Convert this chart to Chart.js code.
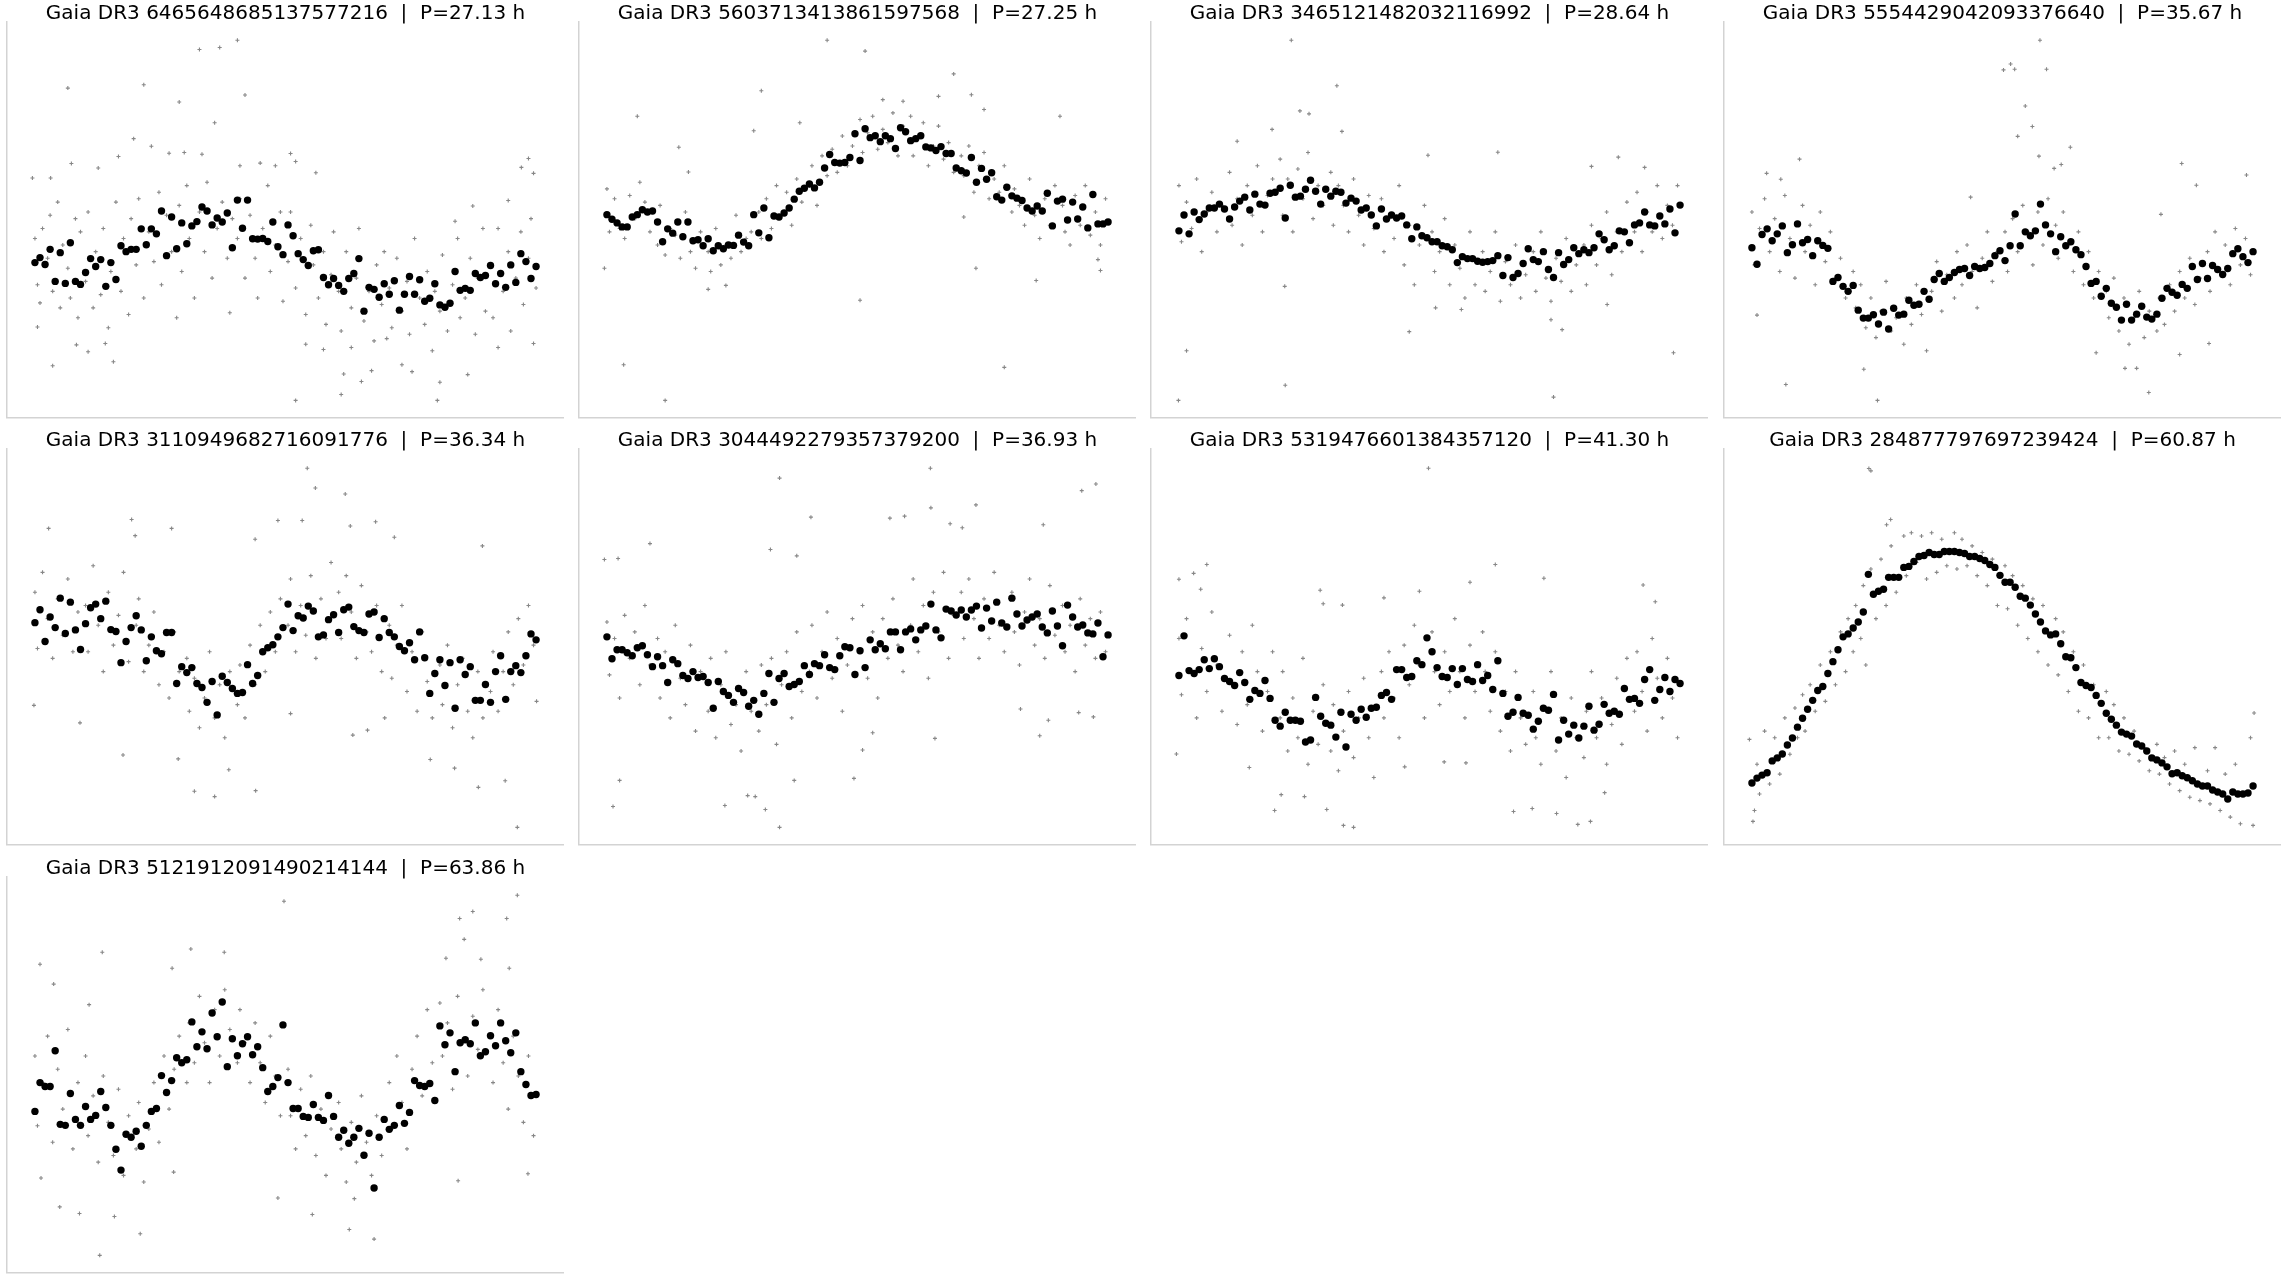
<!DOCTYPE html>
<html>
<head>
<meta charset="utf-8">
<title>Gaia DR3 phase-folded light curves</title>
<script src="https://cdn.jsdelivr.net/npm/chart.js"></script>
<style>
  body {
    margin: 0;
    background: #ffffff;
    width: 2287px;
    height: 1279px;
    overflow: hidden;
    position: relative;
  }
  .panel { position: absolute; }
</style>
</head>
<body>
<script>
// source list and folding periods (hours)
const sourceIds = ["6465648685137577216", "5603713413861597568", "3465121482032116992", "5554429042093376640",
  "3110949682716091776", "3044492279357379200", "5319476601384357120", "284877797697239424", "5121912091490214144"];
const periods = ["27.13", "27.25", "28.64", "35.67", "36.34", "36.93", "41.30", "60.87", "63.86"];

// phase bin centres (100 bins)
const binPhase = [0.005,0.015,0.025,0.035,0.045,0.055,0.065,0.075,0.085,0.095,
  0.105,0.115,0.125,0.135,0.145,0.155,0.165,0.175,0.185,0.195,
  0.205,0.215,0.225,0.235,0.245,0.255,0.265,0.275,0.285,0.295,
  0.305,0.315,0.325,0.335,0.345,0.355,0.365,0.375,0.385,0.395,
  0.405,0.415,0.425,0.435,0.445,0.455,0.465,0.475,0.485,0.495,
  0.505,0.515,0.525,0.535,0.545,0.555,0.565,0.575,0.585,0.595,
  0.605,0.615,0.625,0.635,0.645,0.655,0.665,0.675,0.685,0.695,
  0.705,0.715,0.725,0.735,0.745,0.755,0.765,0.775,0.785,0.795,
  0.805,0.815,0.825,0.835,0.845,0.855,0.865,0.875,0.885,0.895,
  0.905,0.915,0.925,0.935,0.945,0.955,0.965,0.975,0.985,0.995];

// binned relative magnitudes (mmag, arbitrary zero point; larger = fainter)
const bin1 = [793,778,799,753,850,763,856,733,850,859, 823,781,805,784,865,793,844,742,760,753,
  753,691,739,691,706,637,772,655,751,673, 736,682,669,625,637,679,658,670,643,748,
  604,689,604,721,722,720,729,670,745,769, 679,712,766,784,802,757,754,838,860,841,
  862,880,841,826,781,940,868,874,898,857, 889,848,937,889,835,889,845,910,901,857,
  921,928,916,820,877,871,877,826,838,832, 802,857,826,868,800,853,766,790,841,805];
const bin2 = [648,662,673,685,685,655,648,633,640,637, 670,730,691,704,670,715,670,727,724,742,
  721,757,742,751,740,741,710,731,742,648, 703,628,718,652,655,643,628,601,577,568,
  555,567,550,507,466,490,492,490,475,403, 484,388,415,409,427,409,418,448,385,397,
  424,418,409,443,446,454,442,463,463,507, 515,522,475,550,508,541,521,594,604,565,
  591,598,605,628,637,622,637,583,682,607, 601,664,610,661,625,688,587,676,676,670];
const bin3 = [697,649,706,640,663,646,628,628,616,631, 661,625,607,595,634,586,616,619,583,580,
  568,658,559,595,592,571,544,577,616,571, 592,577,580,613,598,607,634,628,649,682,
  631,661,649,658,652,679,721,685,712,718, 730,730,742,745,754,793,775,781,781,789,
  792,790,787,772,832,778,838,826,796,751, 784,790,760,814,838,763,799,784,748,766,
  754,763,748,706,724,754,742,697,700,733, 679,673,640,679,682,652,676,631,703,619];
const bin4 = [748,798,708,691,727,706,682,763,739,676, 733,723,772,727,741,750,850,838,865,880,
  862,937,961,961,951,979,943,994,931,952, 949,907,922,919,880,904,844,826,850,838,
  823,814,811,832,805,811,808,796,772,757, 787,742,646,742,700,712,697,616,679,706,
  760,715,742,730,754,769,805,856,850,895, 871,916,928,967,919,967,949,925,958,964,
  949,901,871,883,892,859,871,805,844,796, 841,802,814,829,811,766,751,775,793,760];
const bin5 = [612,573,669,595,627,538,645,550,634,693, 615,567,556,600,547,633,639,733,669,627,
  591,634,727,655,697,706,642,642,796,745, 763,748,796,808,853,790,891,774,793,811,
  826,823,739,796,772,700,688,679,655,627, 556,636,591,598,562,577,655,649,603,588,
  642,573,565,624,636,642,586,580,657,600, 642,655,684,697,673,724,640,718,826,766,
  724,802,733,871,724,769,745,847,847,799, 853,760,712,844,760,742,763,712,646,664];
const bin6 = [655,721,694,694,703,712,688,682,709,745, 715,742,793,724,736,772,781,760,778,775,
  793,871,790,820,832,853,811,823,865,847, 889,826,766,853,781,766,805,799,790,742,
  769,736,742,709,748,754,712,685,688,769, 697,748,664,694,676,691,640,640,694,640,
  631,664,634,622,556,634,658,571,577,589, 574,595,574,562,628,568,607,550,613,625,
  538,586,622,604,595,586,625,643,577,622, 682,559,595,625,619,643,646,613,715,649];
const bin7 = [772,652,757,766,754,724,751,721,745,781, 790,802,763,793,844,817,826,787,841,907,
  925,883,907,907,910,973,967,838,895,916, 922,958,883,988,889,907,874,898,871,868,
  832,823,844,754,754,778,775,727,739,658, 700,748,775,778,751,799,751,784,790,739,
  787,772,814,727,826,895,883,838,886,892, 934,910,871,877,829,967,907,949,922,961,
  925,865,937,919,859,886,880,889,811,844, 841,856,784,754,847,814,778,820,784,796];
const bin8 = [1097,1082,1073,1066,1030,1021,1009,982,961,928, 901,874,847,817,805,766,730,694,655,646,
  628,610,580,466,526,517,511,475,475,475, 445,442,427,412,409,400,406,406,397,397,
  397,400,403,412,412,418,424,436,445,469, 490,490,505,532,538,559,586,610,637,649,
  646,676,715,718,748,793,802,808,832,856, 886,904,922,943,949,955,979,985,1000,1021,
  1027,1036,1048,1069,1066,1075,1081,1090,1100,1106, 1106,1118,1124,1130,1145,1124,1130,1130,1127,1106];
const bin9 = [787,700,712,712,604,826,829,733,811,829, 772,811,799,727,775,829,901,964,856,865,
  847,892,829,787,778,679,730,694,625,640, 631,517,592,547,598,490,562,457,652,568,
  619,583,562,616,592,655,727,712,685,526, 700,778,778,802,805,766,805,814,739,802,
  865,844,883,865,838,919,853,1018,865,811, 841,829,769,823,790,694,709,712,703,754,
  529,586,550,667,580,571,583,520,619,607, 559,589,520,574,610,550,667,706,739,736];

// individual epochs: phase, magnitude pairs
const obs1 = [0.405,120, 0.37,142, 0.33,148, 0.07,265, 0.22,255, 0.42,286, 0.29,307, 0.36,370, 0.20,418, 0.235,441,
  0.077,493, 0.17,472, 0.13,507, 0.966,505, 0.98,478, 0.99,523, 0.52,487, 0.51,463, 0.56,521, 0.61,1192,
  0.52,1210, 0.80,1210, 0.65,1153, 0.86,1132, 0.805,1155, 0.615,1130, 0.04,1105, 0.16,1093, 0.75,1123, 0.575,1056,
  0.54,1040, 0.73,1102, 0.67,1120, 0.01,988, 0.11,1063, 0.087,1042, 0.144,1038, 0.63,1050, 0.70,1023, 0.92,1050,
  0.99,1038, 0.0,537, 0.036,537, 0.27,462, 0.30,460, 0.335,465, 0.41,500, 0.45,492, 0.48,500, 0.94,605,
  0.87,622, 0.835,668,
  0.005,720, 0.01,860, 0.015,915, 0.02,690, 0.03,780, 0.035,650, 0.04,880, 0.05,610, 0.055,930, 0.06,740,
  0.07,810, 0.075,900, 0.085,660, 0.09,960, 0.095,700, 0.105,850, 0.11,640, 0.12,930, 0.125,760, 0.135,890,
  0.14,690, 0.15,990, 0.155,820, 0.165,610, 0.175,880, 0.18,720, 0.19,950, 0.195,660, 0.205,800, 0.21,600,
  0.22,900, 0.23,700, 0.24,790, 0.25,580, 0.255,860, 0.265,650, 0.275,760, 0.285,960, 0.29,620, 0.295,820,
  0.305,560, 0.31,720, 0.32,900, 0.33,640, 0.34,760, 0.345,550, 0.355,840, 0.365,690, 0.375,610, 0.385,780,
  0.39,945, 0.395,660, 0.405,720, 0.41,600, 0.42,840, 0.43,650, 0.44,780, 0.445,900, 0.455,690, 0.465,560,
  0.47,820, 0.48,740, 0.49,640, 0.495,910, 0.505,790, 0.51,640, 0.52,870, 0.53,720, 0.54,950, 0.55,680,
  0.555,800, 0.565,900, 0.575,760, 0.58,980, 0.59,830, 0.595,700, 0.605,880, 0.61,1000, 0.62,760, 0.63,930,
  0.64,840, 0.645,690, 0.655,970, 0.665,880, 0.675,1030, 0.68,800, 0.69,920, 0.695,760, 0.705,870, 0.71,990,
  0.72,780, 0.73,940, 0.74,850, 0.745,1010, 0.755,720, 0.765,900, 0.775,980, 0.78,820, 0.79,1060, 0.795,880,
  0.805,940, 0.81,770, 0.82,1000, 0.83,860, 0.84,720, 0.845,960, 0.855,900, 0.865,780, 0.875,1010, 0.88,840,
  0.89,690, 0.895,940, 0.905,800, 0.91,960, 0.92,690, 0.93,880, 0.94,760, 0.945,1000, 0.955,840, 0.965,700,
  0.97,920, 0.98,780, 0.985,660, 0.995,870];
const obs2 = [0.44,120, 0.515,153, 0.69,222, 0.31,273, 0.725,285, 0.065,350, 0.90,350, 0.295,394, 0.147,444, 0.386,370,
  0.166,519, 0.0,810, 0.038,1102, 0.12,1210, 0.505,907, 0.79,1110, 0.734,810, 0.853,847, 0.98,817, 0.975,784,
  0.55,300, 0.59,305, 0.66,290, 0.75,330, 0.205,874, 0.24,862, 0.71,655,
  0.005,570, 0.01,700, 0.02,600, 0.03,690, 0.04,720, 0.05,590, 0.06,660, 0.07,550, 0.08,610, 0.09,700,
  0.105,740, 0.11,620, 0.12,770, 0.13,690, 0.14,710, 0.15,780, 0.16,640, 0.17,760, 0.18,810, 0.19,700,
  0.205,760, 0.21,820, 0.22,690, 0.23,800, 0.24,740, 0.25,780, 0.26,650, 0.27,760, 0.28,720, 0.29,700,
  0.305,640, 0.31,720, 0.32,600, 0.33,690, 0.34,560, 0.35,650, 0.36,580, 0.37,680, 0.38,540, 0.39,610,
  0.405,560, 0.41,500, 0.42,620, 0.43,470, 0.44,530, 0.45,450, 0.46,520, 0.47,410, 0.48,500, 0.49,440,
  0.505,360, 0.51,460, 0.52,400, 0.53,350, 0.54,450, 0.55,390, 0.56,430, 0.57,340, 0.58,470, 0.59,380,
  0.605,350, 0.61,470, 0.62,410, 0.63,370, 0.64,500, 0.65,440, 0.66,380, 0.67,480, 0.68,430, 0.69,520,
  0.705,470, 0.71,530, 0.72,440, 0.73,580, 0.74,500, 0.75,460, 0.76,600, 0.77,540, 0.78,580, 0.79,500,
  0.805,640, 0.81,570, 0.82,620, 0.83,680, 0.84,540, 0.85,650, 0.86,720, 0.87,600, 0.88,680, 0.89,560,
  0.905,620, 0.91,700, 0.92,740, 0.93,590, 0.94,680, 0.95,560, 0.96,710, 0.97,640, 0.98,740, 0.99,600];
const obs3 = [0.227,120, 0.317,258, 0.244,334, 0.262,343, 0.327,396, 0.189,390, 0.12,426, 0.635,459, 0.004,1210, 0.02,1060,
  0.215,1164, 0.745,1200, 0.46,1002, 0.762,996, 0.74,966, 0.982,1066, 0.214,865, 0.873,474, 0.82,502, 0.925,505,
  0.497,468, 0.512,930, 0.563,935, 0.851,920,
  0.005,560, 0.01,730, 0.02,610, 0.03,690, 0.04,540, 0.05,760, 0.06,640, 0.07,580, 0.08,700, 0.09,620,
  0.105,520, 0.11,680, 0.12,600, 0.13,740, 0.14,560, 0.15,650, 0.16,500, 0.17,700, 0.18,590, 0.19,540,
  0.205,480, 0.21,650, 0.22,540, 0.23,700, 0.24,510, 0.25,600, 0.26,460, 0.27,660, 0.28,560, 0.29,620,
  0.305,520, 0.31,680, 0.32,560, 0.33,620, 0.34,700, 0.35,540, 0.36,650, 0.37,740, 0.38,590, 0.39,690,
  0.405,600, 0.41,760, 0.42,660, 0.43,720, 0.44,560, 0.45,800, 0.46,680, 0.47,860, 0.48,740, 0.49,620,
  0.505,700, 0.51,820, 0.52,760, 0.53,660, 0.54,860, 0.55,740, 0.56,810, 0.57,900, 0.58,700, 0.59,860,
  0.605,760, 0.61,880, 0.62,820, 0.63,700, 0.64,910, 0.65,790, 0.66,860, 0.67,740, 0.68,900, 0.69,830,
  0.705,760, 0.71,880, 0.72,700, 0.73,840, 0.74,910, 0.75,780, 0.76,850, 0.77,720, 0.78,880, 0.79,800,
  0.805,740, 0.81,860, 0.82,680, 0.83,800, 0.84,720, 0.85,640, 0.86,830, 0.87,700, 0.88,760, 0.89,610,
  0.905,700, 0.91,580, 0.92,760, 0.93,640, 0.94,700, 0.95,560, 0.96,720, 0.97,620, 0.98,680, 0.99,560];
const obs4 = [0.574,120, 0.516,192, 0.502,210, 0.524,208, 0.587,208, 0.545,319, 0.559,381, 0.53,411, 0.634,444, 0.572,471,
  0.616,496, 0.602,508, 0.099,480, 0.062,541, 0.034,523, 0.854,493, 0.883,559, 0.982,528, 0.253,1210, 0.072,1162,
  0.789,1186, 0.226,1116, 0.015,952, 0.742,1113, 0.765,1113, 0.685,1066, 0.85,1071, 0.908,1038, 0.437,595, 0.813,647,
  0.005,640, 0.01,800, 0.02,690, 0.03,600, 0.04,760, 0.05,660, 0.06,820, 0.07,590, 0.08,720, 0.09,840,
  0.105,620, 0.11,760, 0.12,680, 0.13,860, 0.14,640, 0.15,790, 0.16,700, 0.17,840, 0.18,780, 0.19,900,
  0.205,820, 0.21,930, 0.22,860, 0.23,990, 0.24,900, 0.25,1020, 0.26,940, 0.27,850, 0.28,1000, 0.29,960,
  0.305,1040, 0.31,900, 0.32,980, 0.33,860, 0.34,950, 0.35,1060, 0.36,880, 0.37,790, 0.38,940, 0.39,830,
  0.405,900, 0.41,760, 0.42,860, 0.43,740, 0.44,820, 0.45,930, 0.46,780, 0.47,700, 0.48,850, 0.49,760,
  0.505,700, 0.51,820, 0.52,660, 0.53,760, 0.54,620, 0.55,700, 0.56,800, 0.57,640, 0.58,740, 0.59,600,
  0.605,680, 0.61,780, 0.62,640, 0.63,740, 0.64,820, 0.65,700, 0.66,860, 0.67,760, 0.68,900, 0.69,820,
  0.705,880, 0.71,960, 0.72,840, 0.73,1000, 0.74,900, 0.75,1040, 0.76,960, 0.77,880, 0.78,1020, 0.79,940,
  0.805,1000, 0.81,900, 0.82,980, 0.83,860, 0.84,940, 0.85,820, 0.86,900, 0.87,780, 0.88,920, 0.89,840,
  0.905,760, 0.91,880, 0.92,700, 0.93,820, 0.94,740, 0.95,860, 0.96,690, 0.97,800, 0.98,720, 0.99,830];
const obs5 = [0.543,145, 0.559,205, 0.618,223, 0.196,300, 0.032,327, 0.275,327, 0.485,303, 0.533,303, 0.678,307, 0.628,320,
  0.715,354, 0.889,380, 0.203,349, 0.44,360, 0.958,1231, 0.36,1138, 0.441,1120, 0.32,1122, 0.881,1110, 0.934,1090,
  0.834,1052, 0.388,1057, 0.179,1012, 0.288,1024, 0.786,1026, 0.003,862, 0.094,915, 0.996,850, 0.633,952, 0.662,937,
  0.696,900, 0.51,887,
  0.005,520, 0.01,690, 0.02,460, 0.03,600, 0.04,720, 0.05,540, 0.06,650, 0.07,480, 0.08,700, 0.09,580,
  0.105,560, 0.11,700, 0.12,440, 0.13,620, 0.14,760, 0.15,520, 0.16,680, 0.17,590, 0.18,460, 0.19,730,
  0.205,620, 0.21,540, 0.22,760, 0.23,680, 0.24,580, 0.25,800, 0.26,700, 0.27,840, 0.28,640, 0.29,760,
  0.305,720, 0.31,880, 0.32,780, 0.33,930, 0.34,840, 0.35,700, 0.36,900, 0.37,800, 0.38,960, 0.39,760,
  0.405,860, 0.41,740, 0.42,900, 0.43,680, 0.44,800, 0.45,620, 0.46,760, 0.47,580, 0.48,700, 0.49,540,
  0.505,620, 0.51,480, 0.52,700, 0.53,560, 0.54,650, 0.55,470, 0.56,720, 0.57,540, 0.58,660, 0.59,430,
  0.605,520, 0.61,660, 0.62,470, 0.63,580, 0.64,720, 0.65,500, 0.66,640, 0.67,700, 0.68,560, 0.69,760,
  0.705,620, 0.71,780, 0.72,680, 0.73,560, 0.74,820, 0.75,700, 0.76,880, 0.77,640, 0.78,790, 0.79,900,
  0.805,740, 0.81,860, 0.82,680, 0.83,930, 0.84,800, 0.85,720, 0.86,880, 0.87,960, 0.88,760, 0.89,900,
  0.905,820, 0.91,700, 0.92,880, 0.93,760, 0.94,640, 0.95,800, 0.96,600, 0.97,740, 0.98,560, 0.99,680];
const obs6 = [0.644,145, 0.346,175, 0.971,193, 0.943,213, 0.645,265, 0.734,256, 0.408,293, 0.564,296, 0.593,290, 0.867,316,
  0.683,313, 0.707,325, 0.09,373, 0.328,391, 0.38,410, 0.0,421, 0.027,418, 0.017,1168, 0.346,1231, 0.318,1177,
  0.238,1165, 0.283,1135, 0.298,1138, 0.03,1089, 0.493,1083, 0.375,1089, 0.86,954, 0.653,962, 0.937,884, 0.966,897,
  0.877,907, 0.822,873, 0.51,997, 0.53,945,
  0.005,610, 0.01,770, 0.02,660, 0.03,840, 0.04,590, 0.05,720, 0.06,640, 0.07,800, 0.08,560, 0.09,740,
  0.105,660, 0.11,840, 0.12,700, 0.13,900, 0.14,620, 0.15,780, 0.16,860, 0.17,680, 0.18,940, 0.19,760,
  0.205,880, 0.21,720, 0.22,960, 0.23,800, 0.24,700, 0.25,920, 0.26,860, 0.27,1000, 0.28,760, 0.29,880,
  0.305,940, 0.31,740, 0.32,860, 0.33,720, 0.34,980, 0.35,800, 0.36,700, 0.37,900, 0.38,640, 0.39,820,
  0.405,760, 0.41,620, 0.42,840, 0.43,700, 0.44,580, 0.45,780, 0.46,660, 0.47,880, 0.48,740, 0.49,600,
  0.505,700, 0.51,560, 0.52,780, 0.53,640, 0.54,840, 0.55,600, 0.56,720, 0.57,540, 0.58,680, 0.59,760,
  0.605,620, 0.61,480, 0.62,700, 0.63,560, 0.64,780, 0.65,520, 0.66,640, 0.67,460, 0.68,720, 0.69,590,
  0.705,520, 0.71,660, 0.72,480, 0.73,600, 0.74,720, 0.75,540, 0.76,660, 0.77,460, 0.78,620, 0.79,700,
  0.805,520, 0.81,640, 0.82,740, 0.83,580, 0.84,480, 0.85,680, 0.86,600, 0.87,720, 0.88,500, 0.89,650,
  0.905,560, 0.91,700, 0.92,620, 0.93,760, 0.94,540, 0.95,680, 0.96,600, 0.97,720, 0.98,580, 0.99,700];
const obs7 = [0.498,145, 0.06,436, 0.63,436, 0.034,463, 0.726,478, 0.58,490, 0.922,498, 0.005,481, 0.048,511, 0.946,549,
  0.284,514, 0.29,555, 0.328,559, 0.41,537, 0.48,517, 0.33,1225, 0.35,1231, 0.793,1222, 0.818,1213, 0.751,1189,
  0.194,1180, 0.666,1183, 0.703,1174, 0.207,1132, 0.253,1138, 0.846,1126, 0.297,1177, 0.0,1009, 0.144,1050, 0.451,1048,
  0.529,1033, 0.572,1036,
  0.005,660, 0.01,830, 0.02,600, 0.03,760, 0.04,900, 0.05,690, 0.06,820, 0.07,580, 0.08,740, 0.09,880,
  0.105,650, 0.11,800, 0.12,920, 0.13,700, 0.14,860, 0.15,620, 0.16,760, 0.17,940, 0.18,820, 0.19,700,
  0.205,900, 0.21,760, 0.22,1000, 0.23,840, 0.24,960, 0.25,720, 0.26,1040, 0.27,880, 0.28,980, 0.29,800,
  0.305,1000, 0.31,860, 0.32,1060, 0.33,940, 0.34,820, 0.35,1020, 0.36,900, 0.37,780, 0.38,960, 0.39,1080,
  0.405,760, 0.41,900, 0.42,700, 0.43,840, 0.44,960, 0.45,680, 0.46,800, 0.47,620, 0.48,740, 0.49,900,
  0.505,640, 0.51,760, 0.52,860, 0.53,700, 0.54,820, 0.55,600, 0.56,760, 0.57,900, 0.58,680, 0.59,820,
  0.605,640, 0.61,760, 0.62,880, 0.63,700, 0.64,940, 0.65,820, 0.66,1000, 0.67,760, 0.68,900, 0.69,980,
  0.705,820, 0.71,960, 0.72,1040, 0.73,880, 0.74,760, 0.75,1000, 0.76,900, 0.77,1080, 0.78,840, 0.79,960,
  0.805,1020, 0.81,880, 0.82,760, 0.83,960, 0.84,840, 0.85,1040, 0.86,920, 0.87,780, 0.88,980, 0.89,720,
  0.905,880, 0.91,700, 0.92,820, 0.93,940, 0.94,660, 0.95,780, 0.96,900, 0.97,720, 0.98,840, 0.99,960];
const obs8 = [0.236,146, 0.24,153, 0.279,300, 0.271,316, 0.997,885, 0.007,1213,
  0.0,965, 0.01,1180, 0.015,1040, 0.02,1130, 0.03,940, 0.04,1100, 0.05,960, 0.06,1070, 0.07,900, 0.08,1010,
  0.09,870, 0.095,960, 0.105,830, 0.11,940, 0.12,800, 0.13,880, 0.14,740, 0.15,850, 0.16,700, 0.17,800,
  0.18,640, 0.19,760, 0.195,600, 0.205,700, 0.21,560, 0.22,660, 0.225,500, 0.23,740, 0.24,450, 0.25,600,
  0.26,420, 0.27,560, 0.28,380, 0.29,520, 0.305,350, 0.31,470, 0.32,340, 0.33,430, 0.34,350, 0.35,480,
  0.36,340, 0.37,460, 0.38,360, 0.39,440, 0.405,340, 0.41,450, 0.42,360, 0.43,440, 0.44,380, 0.45,470,
  0.46,400, 0.47,500, 0.48,420, 0.49,560, 0.505,440, 0.51,570, 0.52,470, 0.53,620, 0.54,500, 0.55,660,
  0.56,540, 0.57,700, 0.58,560, 0.59,740, 0.605,600, 0.61,770, 0.62,640, 0.63,820, 0.64,700, 0.65,880,
  0.66,740, 0.67,900, 0.68,800, 0.69,960, 0.705,820, 0.71,960, 0.72,860, 0.73,1000, 0.74,900, 0.75,1010,
  0.76,940, 0.77,1030, 0.78,990, 0.79,1060, 0.805,980, 0.81,1070, 0.82,1020, 0.83,1100, 0.84,1000, 0.85,1120,
  0.86,1040, 0.87,1140, 0.88,990, 0.89,1150, 0.905,1060, 0.91,1160, 0.92,990, 0.93,1180, 0.94,1070, 0.95,1200,
  0.96,1040, 0.97,1220, 0.98,1130, 0.99,960, 0.995,1225];
const obs9 = [0.958,135, 0.497,153, 0.87,184, 0.844,205, 0.937,205, 0.853,268, 0.138,307, 0.313,297, 0.379,307, 0.015,343,
  0.276,355, 0.042,403, 0.112,465, 0.817,325, 0.886,328, 0.942,355, 0.133,1221, 0.675,1172, 0.626,1143, 0.213,1156,
  0.553,1098, 0.162,1104, 0.093,1095, 0.054,1075, 0.636,1050, 0.485,1048, 0.841,996, 0.979,975, 0.017,988, 0.279,970,
  0.005,620, 0.01,830, 0.02,700, 0.03,560, 0.04,880, 0.05,660, 0.06,780, 0.07,540, 0.08,900, 0.09,700,
  0.105,620, 0.11,860, 0.12,740, 0.13,940, 0.14,680, 0.15,820, 0.16,920, 0.17,720, 0.18,980, 0.19,800,
  0.205,900, 0.21,760, 0.22,1000, 0.23,840, 0.24,700, 0.25,880, 0.26,620, 0.27,780, 0.28,660, 0.29,560,
  0.305,700, 0.31,520, 0.32,640, 0.33,440, 0.34,580, 0.35,700, 0.36,480, 0.37,620, 0.38,420, 0.39,540,
  0.405,640, 0.41,480, 0.42,580, 0.43,700, 0.44,520, 0.45,640, 0.46,760, 0.47,560, 0.48,680, 0.49,800,
  0.505,660, 0.51,800, 0.52,900, 0.53,720, 0.54,860, 0.55,680, 0.56,920, 0.57,780, 0.58,980, 0.59,840,
  0.605,760, 0.61,900, 0.62,1000, 0.63,820, 0.64,940, 0.65,740, 0.66,880, 0.67,980, 0.68,800, 0.69,920,
  0.705,700, 0.71,840, 0.72,620, 0.73,760, 0.74,900, 0.75,660, 0.76,560, 0.77,740, 0.78,480, 0.79,640,
  0.805,460, 0.81,620, 0.82,520, 0.83,720, 0.84,440, 0.85,580, 0.86,680, 0.87,500, 0.88,600, 0.89,420,
  0.905,560, 0.91,700, 0.92,480, 0.93,640, 0.94,780, 0.95,560, 0.96,680, 0.97,820, 0.98,620, 0.99,860];

// magnitude axis limits per panel (bright end, faint end)
const magBright = [65, 65, 65, 65, 87, 87, 87, 87, 80];
const magFaint = [1263, 1263, 1263, 1263, 1284, 1284, 1284, 1284, 1274];

const bins = [bin1, bin2, bin3, bin4, bin5, bin6, bin7, bin8, bin9];
const observations = [obs1, obs2, obs3, obs4, obs5, obs6, obs7, obs8, obs9];

// grid layout: 4 columns, 3 rows
const colLeft = [2, 574, 1146, 1719];
const rowTop = [0, 427, 855];
const canvasW = 567, canvasH = 423;

function toPairs(flat) {
  const pts = [];
  for (let i = 0; i < flat.length; i += 2) pts.push({ x: flat[i], y: flat[i + 1] });
  return pts;
}

const spine = { display: true, color: '#d3d3d3', width: 1.5 };

for (let k = 0; k < sourceIds.length; k++) {
  const canvas = document.createElement('canvas');
  canvas.className = 'panel';
  canvas.width = canvasW;
  canvas.height = canvasH;
  canvas.style.left = colLeft[k % 4] + 'px';
  canvas.style.top = rowTop[Math.floor(k / 4)] + 'px';
  document.body.appendChild(canvas);

  new Chart(canvas.getContext('2d'), {
    type: 'scatter',
    data: {
      datasets: [
        {
          label: 'binned',
          data: binPhase.map((p, i) => ({ x: p, y: bins[k][i] })),
          pointRadius: 3.7,
          pointBackgroundColor: '#000000',
          pointBorderWidth: 0
        },
        {
          label: 'epochs',
          data: toPairs(observations[k]),
          pointStyle: 'cross',
          pointRadius: 2,
          pointBorderColor: 'rgba(95,95,95,0.75)',
          pointBorderWidth: 1.1
        }
      ]
    },
    options: {
      responsive: false,
      animation: false,
      events: [],
      layout: { padding: { left: 2, right: 2, top: 0, bottom: 2 } },
      plugins: {
        legend: { display: false },
        tooltip: { enabled: false },
        title: {
          display: true,
          text: 'Gaia DR3 ' + sourceIds[k] + '  |  P=' + periods[k] + ' h',
          color: '#000000',
          font: { family: 'DejaVu Sans', size: 20, weight: 'normal', lineHeight: 0.85 },
          padding: { top: 5, bottom: 0 }
        }
      },
      scales: {
        x: {
          type: 'linear',
          min: -0.05,
          max: 1.05,
          ticks: { display: false },
          grid: { display: false, drawTicks: false },
          border: spine
        },
        y: {
          min: magBright[k],
          max: magFaint[k],
          reverse: true,
          ticks: { display: false },
          grid: { display: false, drawTicks: false },
          border: spine
        }
      }
    }
  });
}
</script>
</body>
</html>
